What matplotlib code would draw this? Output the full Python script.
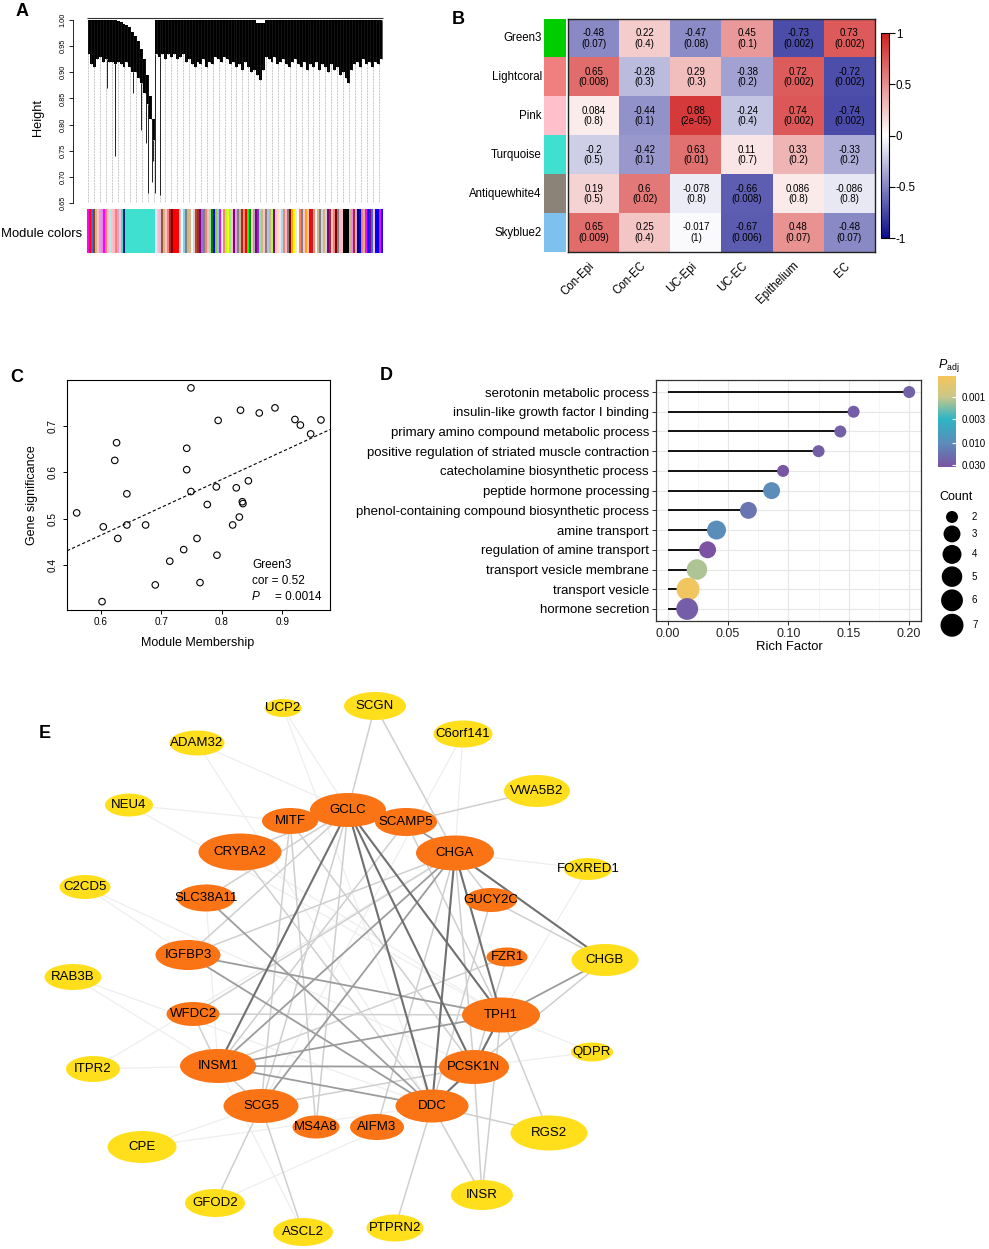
import numpy as np
import matplotlib
matplotlib.use("Agg")
import matplotlib.pyplot as plt
import matplotlib.cm as cm
from matplotlib.colors import LinearSegmentedColormap, ListedColormap, LogNorm, Normalize
from matplotlib.patches import Ellipse

plt.rcParams['font.family'] = ['Liberation Sans', 'DejaVu Sans']
plt.rcParams['mathtext.fontset'] = 'custom'
plt.rcParams['mathtext.it'] = 'Liberation Sans:italic'
plt.rcParams['mathtext.rm'] = 'Liberation Sans'

# ---------------- A: gene dendrogram + module colours ----------------
# merge heights read at 100 positions along the leaf order
dendro_top = ([1.0] * 10 +
              [0.998, 0.996, 0.993, 0.99, 0.986, 0.978, 0.97, 0.96, 0.945, 0.925, 0.895, 0.855, 0.81] +
              [1.0] * 34 + [0.995] * 3 + [1.0] * 40)
dendro_bottom = [0.935, 0.915, 0.91, 0.925, 0.93, 0.92, 0.925, 0.92, 0.92, 0.915,
                 0.92, 0.915, 0.91, 0.92, 0.91, 0.90, 0.90, 0.89, 0.88, 0.86,
                 0.84, 0.81, 0.77,
                 0.935, 0.93, 0.935, 0.925, 0.935, 0.93, 0.935, 0.925, 0.93, 0.935,
                 0.92, 0.925, 0.915, 0.91, 0.92, 0.915, 0.925, 0.91, 0.92, 0.915,
                 0.93, 0.925, 0.92, 0.93, 0.925, 0.915, 0.92, 0.91, 0.915, 0.905,
                 0.92, 0.91, 0.90, 0.905, 0.895, 0.885, 0.905, 0.93, 0.925, 0.92,
                 0.93, 0.915, 0.92, 0.925, 0.915, 0.91, 0.92, 0.925, 0.915, 0.91,
                 0.92, 0.905, 0.915, 0.91, 0.92, 0.905, 0.915, 0.91, 0.90, 0.915,
                 0.905, 0.91, 0.895, 0.90, 0.89, 0.88, 0.905, 0.915, 0.92, 0.91,
                 0.925, 0.915, 0.92, 0.91, 0.92, 0.915, 0.925]
spike_pos = [6.1, 8.8, 9.1, 15.1, 17.9, 19.4, 20.2, 21.3, 21.8, 22.6, 24.1]
spike_low = [0.87, 0.74, 0.83, 0.86, 0.79, 0.765, 0.67, 0.69, 0.73, 0.67, 0.665]

module_colors = (['magenta', 'red', 'royalblue', 'saddlebrown', 'tan', 'pink', 'plum', 'violet',
                  'magenta', 'salmon', 'pink', 'paleturquoise', 'pink', 'lightpink', 'salmon',
                  'plum', 'pink', 'turquoise', 'midnightblue'] +
                 ['turquoise'] * 15 +
                 ['lavender', 'pink', 'thistle', 'sienna', 'tan', 'pink', 'salmon', 'brown', 'darkred', 'red',
                  'red', 'red', 'pink', 'lightcyan', 'skyblue', 'gray', 'tan', 'burlywood', 'lightcyan', 'pink',
                  'sienna', 'brown', 'purple', 'mediumpurple', 'gray', 'salmon', 'pink', 'lightgreen', 'green', 'blue',
                  'yellowgreen', 'skyblue', 'magenta', 'lightyellow', 'salmon', 'greenyellow', 'yellow', 'lightgreen', 'pink', 'purple',
                  'plum', 'gray', 'tan', 'brown', 'salmon', 'red', 'lime', 'green', 'pink', 'darkgray',
                  'purple', 'blueviolet', 'lightgreen', 'tan', 'pink', 'gray', 'lightsteelblue', 'tan', 'greenyellow', 'purple',
                  'pink', 'wheat', 'lavender', 'lightblue', 'salmon', 'pink', 'gray', 'darkred', 'orange', 'yellow',
                  'lavender', 'lightyellow', 'salmon', 'gray', 'pink', 'orange', 'pink', 'red', 'brown', 'salmon',
                  'white', 'tan', 'gray', 'lightgray', 'tan', 'lightgray', 'purple', 'brown', 'pink', 'salmon',
                  'maroon', 'gray', 'lightpink', 'pink', 'black', 'black', 'black', 'tan', 'violet', 'brown',
                  'plum', 'navy', 'blue', 'lightcoral', 'tan', 'magenta', 'blue', 'purple', 'royalblue', 'pink',
                  'blue', 'blue', 'magenta', 'blue'])

# ---------------- B: module-trait correlation ----------------
modules = ["Green3", "Lightcoral", "Pink", "Turquoise", "Antiquewhite4", "Skyblue2"]
module_swatch = ["#00CD00", "#F08080", "#FFC0CB", "#40E0D0", "#8B8378", "#7EC0EE"]
traits = ["Con-Epi", "Con-EC", "UC-Epi", "UC-EC", "Epithelium", "EC"]
cor = [[-0.48, 0.22, -0.47, 0.45, -0.73, 0.73],
       [0.65, -0.28, 0.29, -0.38, 0.72, -0.72],
       [0.084, -0.44, 0.88, -0.24, 0.74, -0.74],
       [-0.2, -0.42, 0.63, 0.11, 0.33, -0.33],
       [0.19, 0.6, -0.078, -0.66, 0.086, -0.086],
       [0.65, 0.25, -0.017, -0.67, 0.48, -0.48]]
pval = [[0.07, 0.4, 0.08, 0.1, 0.002, 0.002],
        [0.008, 0.3, 0.3, 0.2, 0.002, 0.002],
        [0.8, 0.1, 2e-05, 0.4, 0.002, 0.002],
        [0.5, 0.1, 0.01, 0.7, 0.2, 0.2],
        [0.5, 0.02, 0.8, 0.008, 0.8, 0.8],
        [0.009, 0.4, 1, 0.006, 0.07, 0.07]]

# ---------------- C: MM vs GS (Green3) ----------------
mm = [0.560, 0.602, 0.604, 0.628, 0.623, 0.626, 0.643, 0.643, 0.674, 0.690, 0.714, 0.737,
      0.742, 0.742, 0.749, 0.749, 0.759, 0.764, 0.776, 0.791, 0.792, 0.794, 0.818, 0.824,
      0.829, 0.831, 0.834, 0.835, 0.844, 0.862, 0.888, 0.921, 0.930, 0.947, 0.964]
gs = [0.513, 0.322, 0.483, 0.458, 0.626, 0.664, 0.554, 0.487, 0.487, 0.358, 0.409, 0.434,
      0.606, 0.652, 0.782, 0.559, 0.458, 0.363, 0.531, 0.569, 0.422, 0.712, 0.487, 0.567,
      0.504, 0.734, 0.537, 0.533, 0.582, 0.728, 0.739, 0.714, 0.702, 0.683, 0.713]
fit_intercept = 0.105
fit_slope = 0.60

# ---------------- D: GO enrichment ----------------
terms = ["serotonin metabolic process", "insulin-like growth factor I binding",
         "primary amino compound metabolic process",
         "positive regulation of striated muscle contraction",
         "catecholamine biosynthetic process", "peptide hormone processing",
         "phenol-containing compound biosynthetic process", "amine transport",
         "regulation of amine transport", "transport vesicle membrane",
         "transport vesicle", "hormone secretion"]
rich = [0.200, 0.154, 0.143, 0.125, 0.0956, 0.0861, 0.0669, 0.0405, 0.0331, 0.0243, 0.0169, 0.0162]
counts = [2, 2, 2, 2, 2, 3, 3, 4, 3, 5, 7, 6]
padj = [0.024, 0.026, 0.024, 0.025, 0.030, 0.010, 0.016, 0.0095, 0.032, 0.0012, 0.0004, 0.026]
count_levels = [2, 3, 4, 5, 6, 7]

# ---------------- E: PPI network ----------------
hub_genes = ["GCLC", "MITF", "SCAMP5", "CHGA", "CRYBA2", "SLC38A11", "GUCY2C", "IGFBP3",
             "FZR1", "WFDC2", "TPH1", "INSM1", "PCSK1N", "SCG5", "DDC", "MS4A8", "AIFM3"]
other_genes = ["UCP2", "SCGN", "C6orf141", "ADAM32", "VWA5B2", "NEU4", "FOXRED1", "C2CD5",
               "CHGB", "RAB3B", "QDPR", "ITPR2", "RGS2", "CPE", "INSR", "GFOD2", "ASCL2", "PTPRN2"]
# network layout (x, y) and ellipse size (w, h)
node_pos = {"GCLC": (348, 810), "MITF": (290, 821), "SCAMP5": (406, 822), "CHGA": (455, 853),
            "CRYBA2": (240, 852), "SLC38A11": (206, 898), "GUCY2C": (491, 900), "IGFBP3": (188, 955),
            "FZR1": (507, 957), "WFDC2": (193, 1014), "TPH1": (501, 1015), "INSM1": (218, 1066),
            "PCSK1N": (474, 1067), "SCG5": (261, 1106), "DDC": (432, 1106), "MS4A8": (316, 1127),
            "AIFM3": (377, 1127),
            "UCP2": (283, 708), "SCGN": (375, 706), "C6orf141": (463, 734), "ADAM32": (197, 743),
            "VWA5B2": (537, 791), "NEU4": (129, 805), "FOXRED1": (588, 869), "C2CD5": (85, 887),
            "CHGB": (605, 960), "RAB3B": (73, 977), "QDPR": (592, 1052), "ITPR2": (93, 1069),
            "RGS2": (549, 1133), "CPE": (142, 1147), "INSR": (482, 1195), "GFOD2": (215, 1203),
            "ASCL2": (303, 1232), "PTPRN2": (395, 1228)}
node_size = {"GCLC": (76, 34), "MITF": (56, 26), "SCAMP5": (62, 28), "CHGA": (78, 35),
             "CRYBA2": (83, 37), "SLC38A11": (58, 27), "GUCY2C": (52, 24), "IGFBP3": (65, 30),
             "FZR1": (41, 19), "WFDC2": (53, 24), "TPH1": (78, 35), "INSM1": (76, 34),
             "PCSK1N": (70, 34), "SCG5": (75, 34), "DDC": (73, 33), "MS4A8": (47, 23),
             "AIFM3": (54, 26),
             "UCP2": (37, 18), "SCGN": (62, 28), "C6orf141": (59, 27), "ADAM32": (55, 25),
             "VWA5B2": (66, 32), "NEU4": (48, 23), "FOXRED1": (48, 22), "C2CD5": (51, 24),
             "CHGB": (67, 32), "RAB3B": (57, 26), "QDPR": (42, 19), "ITPR2": (54, 26),
             "RGS2": (77, 35), "CPE": (69, 32), "INSR": (62, 30), "GFOD2": (60, 28),
             "ASCL2": (60, 28), "PTPRN2": (57, 27)}
edges_strong = [("GCLC", "INSM1"), ("GCLC", "DDC"), ("GCLC", "TPH1"), ("CHGA", "TPH1"),
                ("CHGA", "DDC"), ("PCSK1N", "DDC"), ("TPH1", "PCSK1N"), ("CHGA", "CHGB"),
                ("GCLC", "PCSK1N")]
edges_medium = [("INSM1", "PCSK1N"), ("INSM1", "TPH1"), ("IGFBP3", "TPH1"), ("IGFBP3", "DDC"),
                ("INSM1", "DDC"), ("CHGB", "TPH1"), ("CHGA", "SCG5"), ("CHGA", "SCAMP5"),
                ("SLC38A11", "DDC"), ("CHGA", "INSM1")]
edges_light = [("SCGN", "GCLC"), ("SCGN", "CHGA"), ("VWA5B2", "SCAMP5"), ("WFDC2", "TPH1"),
               ("WFDC2", "INSM1"), ("IGFBP3", "CHGA"), ("CRYBA2", "GCLC"), ("MITF", "SCG5"),
               ("MITF", "PCSK1N"), ("MS4A8", "GCLC"), ("FZR1", "PCSK1N"), ("FZR1", "INSM1"),
               ("PCSK1N", "SCG5"), ("PCSK1N", "CHGB"), ("TPH1", "RGS2"), ("DDC", "RGS2"),
               ("DDC", "INSR"), ("PCSK1N", "INSR"), ("DDC", "PTPRN2"), ("SCG5", "GFOD2"),
               ("SCG5", "ASCL2"), ("GUCY2C", "CHGA"), ("GUCY2C", "CHGB"), ("SLC38A11", "GCLC"),
               ("SCAMP5", "TPH1"), ("SCAMP5", "INSM1"), ("AIFM3", "CHGA"), ("IGFBP3", "GCLC"),
               ("WFDC2", "CHGA"), ("INSM1", "SCG5"), ("GCLC", "SCG5"), ("CHGA", "PCSK1N"),
               ("GUCY2C", "DDC"), ("TPH1", "INSR"), ("CRYBA2", "DDC"), ("MS4A8", "MITF")]
edges_faint = [("ADAM32", "GCLC"), ("UCP2", "GCLC"), ("UCP2", "DDC"), ("NEU4", "MITF"),
               ("NEU4", "TPH1"), ("C2CD5", "IGFBP3"), ("C2CD5", "PCSK1N"), ("RAB3B", "INSM1"),
               ("RAB3B", "DDC"), ("ITPR2", "INSM1"), ("CPE", "SCG5"), ("CPE", "DDC"),
               ("C6orf141", "CHGA"), ("C6orf141", "SCG5"), ("FOXRED1", "CHGA"), ("FOXRED1", "TPH1"),
               ("QDPR", "TPH1"), ("QDPR", "PCSK1N"), ("ADAM32", "DDC"), ("GFOD2", "DDC"),
               ("ASCL2", "INSM1"), ("ITPR2", "CHGA"), ("CRYBA2", "TPH1"), ("SLC38A11", "INSM1")]

# ================= figure =================
W, H = 989, 1249
fig = plt.figure(figsize=(W / 100, H / 100), dpi=100)


def px_axes(x0, y0, x1, y1):
    return fig.add_axes([x0 / W, 1 - y1 / H, (x1 - x0) / W, (y1 - y0) / H])


def ftext(x, y, s, **kw):
    return fig.text(x / W, 1 - y / H, s, **kw)


def panel(x, y, s):
    ftext(x, y, s, fontsize=13, fontweight='bold', ha='center', va='center')


# ---- A
axA = px_axes(87, 20, 383, 203)
nA = len(dendro_top)
pos = np.arange(nA)
axA.vlines(pos[::2], 0.65, dendro_bottom[::2], colors='#8c8c8c', lw=0.5,
           linestyles=(0, (1, 1.2)))
axA.fill_between(pos, dendro_bottom, dendro_top, step='mid', color='black', lw=0)
axA.vlines(pos, dendro_bottom, dendro_top, colors='#1a1a1a', lw=0.5)
spike_top = [dendro_bottom[int(round(p))] for p in spike_pos]
axA.vlines(spike_pos, spike_low, spike_top, colors='#222222', lw=0.7)
axA.hlines(1.004, -0.5, nA - 0.5, colors='#333333', lw=0.8, clip_on=False)
axA.set_xlim(-0.5, nA - 0.5)
axA.set_ylim(0.65, 1.0)
for s in ['top', 'right', 'bottom']:
    axA.spines[s].set_visible(False)
axA.spines['left'].set_position(('outward', 10))
axA.spines['left'].set_linewidth(0.6)
axA.set_xticks([])
ticksA = [0.65, 0.70, 0.75, 0.80, 0.85, 0.90, 0.95, 1.00]
axA.set_yticks(ticksA)
axA.set_yticklabels([f"{t:.2f}" for t in ticksA])
axA.tick_params(axis='y', length=3, width=0.6, labelsize=5.3, pad=1.5)
for t in axA.get_yticklabels():
    t.set_rotation(90)
    t.set_va('center')
ftext(38, 117, "Height", rotation=90, fontsize=9.2, ha='center', va='center')

axM = px_axes(87, 209, 383, 253)
axM.imshow(np.arange(len(module_colors))[None, :], cmap=ListedColormap(module_colors),
           aspect='auto', interpolation='nearest')
axM.axis('off')
ftext(82, 234, "Module colors", fontsize=9.4, ha='right', va='center')
panel(22, 12, "A")

# ---- B
cmap_b = LinearSegmentedColormap.from_list('bwr_wgcna', ['#0B0B8A', '#FFFFFF', '#D01F1F'])
axB = px_axes(568, 19, 875, 252)
axB.imshow(cor, cmap=cmap_b, vmin=-1, vmax=1, aspect='auto', interpolation='nearest')
for i in range(len(modules)):
    for j in range(len(traits)):
        axB.text(j, i, f"{cor[i][j]:g}\n({pval[i][j]:g})", ha='center', va='center',
                 fontsize=7, linespacing=1.05)
axB.set_xticks([])
axB.set_yticks([])
for s in axB.spines.values():
    s.set_linewidth(1.0)
    s.set_color('#222222')
for j, c in enumerate(traits):
    axB.text(j - 0.1, 5.7, c, rotation=45, ha='right', va='top', rotation_mode='anchor',
             fontsize=8.3)

axS = px_axes(544, 19, 566, 252)
axS.imshow(np.arange(len(modules))[:, None], cmap=ListedColormap(module_swatch),
           aspect='auto', interpolation='nearest')
axS.axis('off')
for i, m in enumerate(modules):
    axS.text(-0.6, i, m, ha='right', va='center', fontsize=8.3)

caxB = px_axes(881, 33, 889, 238)
cbB = fig.colorbar(cm.ScalarMappable(Normalize(-1, 1), cmap_b), cax=caxB,
                   ticks=[-1, -0.5, 0, 0.5, 1])
cbB.ax.set_yticklabels(['-1', '-0.5', '0', '0.5', '1'])
cbB.ax.tick_params(length=4, width=0.8, labelsize=8.4, pad=1)
cbB.outline.set_linewidth(0.8)
panel(458, 19, "B")

# ---- C
axC = px_axes(67, 380, 330, 610)
axC.scatter(mm, gs, s=22, facecolors='none', edgecolors='black', linewidths=0.8)
axC.axline((0, fit_intercept), slope=fit_slope, color='black', lw=0.8, ls=(0, (3, 2)))
axC.set_xlim(0.544, 0.979)
axC.set_ylim(0.304, 0.799)
axC.set_xticks([0.6, 0.7, 0.8, 0.9])
axC.set_yticks([0.4, 0.5, 0.6, 0.7])
axC.tick_params(length=3, width=0.7, labelsize=7.2)
axC.tick_params(axis='x', pad=2)
axC.tick_params(axis='y', pad=4)
for t in axC.get_yticklabels():
    t.set_rotation(90)
    t.set_va('center')
for s in axC.spines.values():
    s.set_linewidth(0.8)
ftext(198, 643, "Module Membership", fontsize=9, ha='center', va='center')
ftext(32, 495, "Gene significance", fontsize=9, rotation=90, ha='center', va='center')
ftext(252, 565, "Green3", fontsize=8.5, ha='left', va='center')
ftext(252, 581, "cor = 0.52", fontsize=8.5, ha='left', va='center')
ftext(252, 597, "P", fontsize=8.5, ha='left', va='center', style='italic')
ftext(275, 597, "= 0.0014", fontsize=8.5, ha='left', va='center')
panel(17, 377, "C")

# ---- D
cmap_p = LinearSegmentedColormap.from_list(
    'padj', [(0, '#F5C65A'), (0.23, '#C9C78A'), (0.47, '#2DB5C4'), (0.74, '#5B8CBA'), (1.0, '#7B52A2')])
norm_p = LogNorm(vmin=0.00035, vmax=0.033)


def dot_px(c):
    return 12 + 11 * np.sqrt((c - 2) / 5)


axD = px_axes(656, 380, 921, 621)
yD = np.arange(len(terms))
axD.hlines(yD, 0, rich, colors='black', lw=1.3, zorder=2)
axD.scatter(rich, yD, s=[(dot_px(c) * 0.72) ** 2 for c in counts], c=padj, cmap=cmap_p,
            norm=norm_p, zorder=3, edgecolors='none')
axD.set_ylim(len(terms) - 0.39, -0.61)
axD.set_xlim(-0.0096, 0.2098)
axD.set_xticks([0, 0.05, 0.10, 0.15, 0.20])
axD.set_xticklabels(["0.00", "0.05", "0.10", "0.15", "0.20"])
axD.set_xticks([0.025, 0.075, 0.125, 0.175], minor=True)
axD.set_yticks(yD)
axD.set_yticklabels(terms)
axD.grid(which='major', color='#E6E6E6', lw=0.8)
axD.grid(which='minor', axis='x', color='#F2F2F2', lw=0.5)
axD.set_axisbelow(True)
axD.tick_params(which='major', length=3, width=0.7, color='#333333', labelsize=9.5, pad=2)
axD.tick_params(axis='x', labelsize=9, colors='#222222')
axD.tick_params(which='minor', length=0)
for s in axD.spines.values():
    s.set_linewidth(0.9)
    s.set_color('#333333')
ftext(789, 647, "Rich Factor", fontsize=9.4, ha='center', va='center')
panel(386, 376, "D")

caxD = px_axes(938, 376, 956, 467)
cbD = fig.colorbar(cm.ScalarMappable(norm_p, cmap_p), cax=caxD, ticks=[0.001, 0.003, 0.01, 0.03])
cbD.ax.set_yticklabels(["0.001", "0.003", "0.010", "0.030"])
cbD.ax.minorticks_off()
cbD.ax.invert_yaxis()
cbD.ax.tick_params(length=3, width=0.8, color='white', direction='in', labelsize=7, pad=4)
cbD.outline.set_visible(False)
ftext(938, 366, r"$P_{\mathrm{adj}}$", fontsize=9, ha='left', va='center')
ftext(939, 497, "Count", fontsize=9, ha='left', va='center')

axL = px_axes(930, 505, 989, 645)
axL.set_xlim(930, 989)
axL.set_ylim(645, 505)
axL.axis('off')
d_lev = [dot_px(c) for c in count_levels]
y_lev = [517]
for k in range(1, len(d_lev)):
    y_lev.append(y_lev[-1] + (d_lev[k - 1] + d_lev[k]) / 2 + 2.5)
axL.scatter([952] * len(count_levels), y_lev, s=[(d * 0.72) ** 2 for d in d_lev],
            color='black', edgecolors='none')
for c, yy in zip(count_levels, y_lev):
    axL.text(972, yy, str(c), fontsize=7, ha='left', va='center')

# ---- E
axE = px_axes(0, 680, 989, 1249)
axE.set_xlim(0, 989)
axE.set_ylim(1249, 680)
axE.axis('off')
for elist, col, lw in [(edges_faint, '#EEEEEE', 0.9), (edges_light, '#CFCFCF', 1.1),
                       (edges_medium, '#9C9C9C', 1.3), (edges_strong, '#707070', 1.5)]:
    for a, b in elist:
        (x1, y1), (x2, y2) = node_pos[a], node_pos[b]
        axE.plot([x1, x2], [y1, y2], color=col, lw=lw, zorder=1, solid_capstyle='butt')
for g in hub_genes + other_genes:
    x, y = node_pos[g]
    w, h = node_size[g]
    fc = '#FA7315' if g in hub_genes else '#FFDF1C'
    axE.add_patch(Ellipse((x, y), w, h, facecolor=fc, edgecolor='none', zorder=2))
    axE.text(x, y, g, fontsize=9.5, ha='center', va='center', zorder=3)
panel(45, 733, "E")

fig.savefig("out.png", dpi=100)
